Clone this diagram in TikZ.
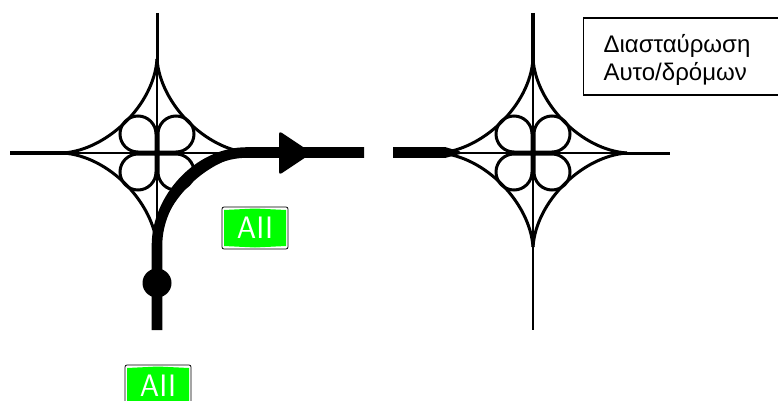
\documentclass[tikz,border=0pt]{standalone}
\usepackage{xcolor}
\usepackage{fontspec}
\setmainfont{Liberation Sans}
\usetikzlibrary{positioning}
\definecolor{signgreen}{RGB}{0,255,0}
\tikzstyle{ramp} = [draw=black, line width=3pt]
\tikzstyle{crossroad} = [draw=black, line width=2.4pt]
\tikzstyle{road} = [draw=black, line width=3.8pt]
\tikzstyle{route} = [draw=black, line width=10.6pt]
\tikzstyle{legend} = [draw=black, line width=1.2pt, anchor=north west, inner sep=0pt, align=left, minimum width=195pt, minimum height=77pt, text width=174pt, font=\fontsize{24}{28}\selectfont]
\tikzset{
  junction/.pic={
    \draw[crossroad] (-92,0) -- (92,0);
    \draw[crossroad] (0,-92) -- (0,92);
    \foreach \ang in {0,90,180,270} {
      \draw[ramp, rotate=\ang] (0,-94) .. controls (3,-50) and (48,-3) .. (94,0);
      \draw[ramp, rotate=\ang] (1,-1) -- (1,-19) arc[start angle=180, delta angle=270, radius=18] -- cycle;
    }
  },
  signplate/.pic={
    \draw[black, fill=white, line width=0.8pt, rounded corners=2pt] (-33,-21) rectangle (33,21);
    \fill[signgreen] (-31,-18) -- (0,-19.5) -- (31,-18) -- (31,18) -- (0,19.5) -- (-31,18) -- cycle;
    \node[white, inner sep=0pt, font=\sffamily\fontsize{31}{31}\selectfont] at (0,0) {AII};
  }
}

\begin{document}
\begin{tikzpicture}[x=1pt, y=-1pt]
\useasboundingbox (0,0) rectangle (778,401);
\clip (0,0) rectangle (778,401);

% Left interchange
\pic at (157,153) {junction};
\draw[road] (10,153) -- (70,153);
\draw[road, line width=3pt] (157,13) -- (157,62);

% Right interchange
\pic at (533,153) {junction};
\draw[road, line width=4pt] (533,13) -- (533,62);
\draw[road, line width=3pt] (622,153) -- (670,153);
\draw[crossroad] (533,240) -- (533,330);
\draw[route] (393,152.5) -- (445,152.5);
\fill[black] (445,147) -- (460,151.5) -- (460,154) -- (445,158) -- cycle;

% Route through the left interchange
\draw[route] (157,330) -- (157,245) .. controls (157,200) and (197,152.5) .. (247,152.5) -- (364,152.5);
\fill[black, rounded corners=3pt] (279,131) -- (312,153) -- (279,175) -- cycle;
\node[circle, fill=black, minimum size=29pt, inner sep=0pt] (start) at (157,283) {};

% Road signs
\pic at (255,228) {signplate};
\pic at (158,386) {signplate};

% Legend
\node[legend] (title) at (582.5,17.5) {\rule{0pt}{24pt}\hspace*{10pt}Διασταύρωση\\\hspace*{10pt}Αυτο/δρόμων};

\end{tikzpicture}
\end{document}
